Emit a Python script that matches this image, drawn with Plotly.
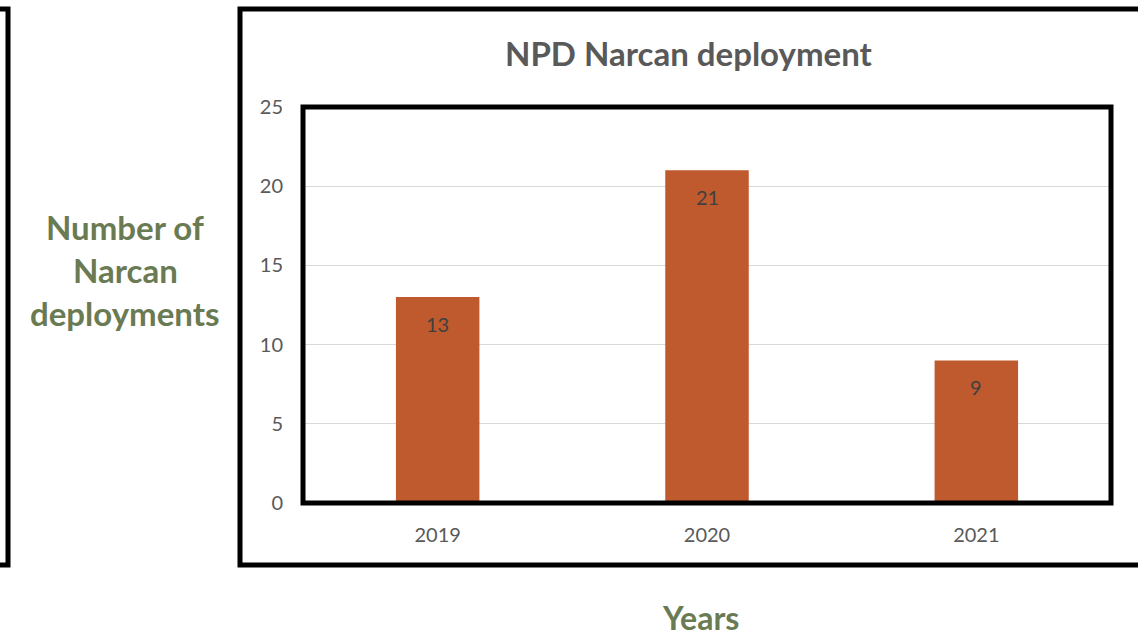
import plotly.graph_objects as go

years = ["2019", "2020", "2021"]
deployments = [13, 21, 9]
y_ticks = [0, 5, 10, 15, 20, 25]

title_text = "NPD Narcan deployment"
y_title_lines = ["Number of", "Narcan", "deployments"]
x_title = "Years"

W, H = 1138, 637
FONT = "Lato"
BAR = "#BE5A2D"
GREEN = "#6A7A53"
GRAY = "#595959"

px0, px1 = 303, 1111
py_top, py_bot = 107, 503

fig = go.Figure()
fig.add_trace(go.Bar(x=years, y=deployments, marker_color=BAR, marker_line_width=0,
                     hoverinfo="skip"))

# data labels (category index positions)
for i, v in enumerate(deployments):
    fig.add_annotation(x=i, y=v, text=str(v), showarrow=False, yshift=-27,
                       font=dict(family=FONT, size=20, color="#404040"))

fig.update_layout(
    width=W, height=H, autosize=False,
    margin=dict(l=0, r=0, t=0, b=0, pad=0),
    paper_bgcolor="white", plot_bgcolor="white",
    bargap=0.69,
    showlegend=False,
    xaxis=dict(type="category", range=[-0.5, len(years) - 0.5], domain=[px0 / W, px1 / W],
               showgrid=False, showline=False,
               ticks="", tickfont=dict(family=FONT, size=20, color=GRAY),
               ticklabelstandoff=18, zeroline=False, automargin=False),
    yaxis=dict(domain=[(H - py_bot) / H, (H - py_top) / H], range=[0, 25],
               tickvals=y_ticks, showgrid=True, gridcolor="#D9D9D9", gridwidth=1,
               zeroline=True, zerolinecolor="#A6A6A6", zerolinewidth=2,
               showline=False, ticks="", tickfont=dict(family=FONT, size=20, color=GRAY),
               ticklabelstandoff=19, automargin=False),
)

def px_x(x):
    return x / W

def px_y(y):
    return 1 - y / H

# Title
fig.add_annotation(xref="paper", yref="paper", x=px_x(689), y=px_y(53), text="<b>%s</b>" % title_text,
                   showarrow=False, font=dict(family=FONT, size=33, color=GRAY),
                   xanchor="center", yanchor="middle")
# Y-axis title (three lines)
for line, yc in zip(y_title_lines, [227, 270, 313]):
    fig.add_annotation(xref="paper", yref="paper", x=px_x(125), y=px_y(yc), text="<b>%s</b>" % line,
                       showarrow=False, font=dict(family=FONT, size=33, color=GREEN),
                       xanchor="center", yanchor="middle")
# X-axis title
fig.add_annotation(xref="paper", yref="paper", x=px_x(700), y=px_y(617), text="<b>%s</b>" % x_title,
                   showarrow=False, font=dict(family=FONT, size=32, color=GREEN),
                   xanchor="center", yanchor="middle")

# Frames
fig.add_shape(type="rect", xref="paper", yref="paper",
              x0=px_x(240), x1=px_x(1150), y0=px_y(565), y1=px_y(9),
              line=dict(color="black", width=5), layer="above")
fig.add_shape(type="rect", xref="paper", yref="paper",
              x0=px_x(-50), x1=px_x(8), y0=px_y(565), y1=px_y(9),
              line=dict(color="black", width=5), layer="above")
fig.add_shape(type="rect", xref="paper", yref="paper",
              x0=px_x(px0), x1=px_x(px1), y0=px_y(py_bot), y1=px_y(py_top),
              line=dict(color="black", width=5), layer="above")

fig.write_html("out.html", config={"displayModeBar": False},
               post_script="document.body.style.margin='0';")
